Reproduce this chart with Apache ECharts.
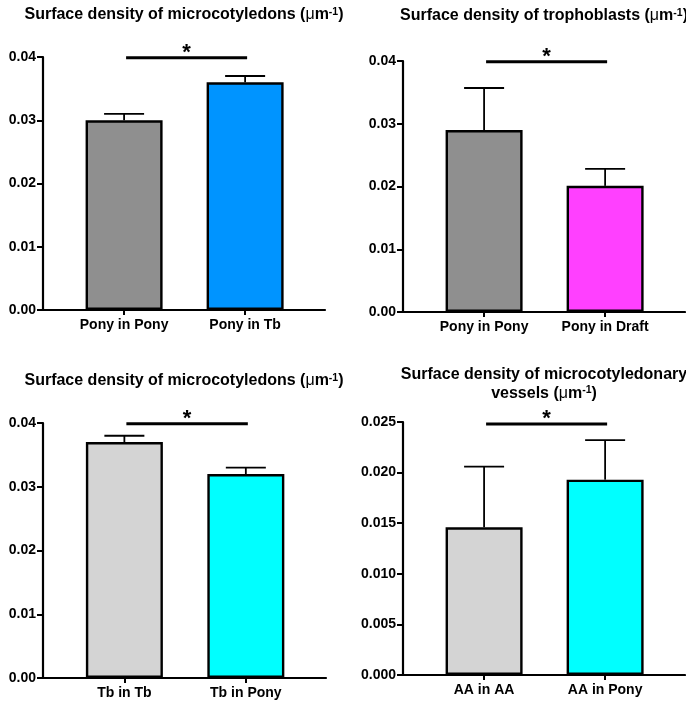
<!DOCTYPE html>
<html>
<head>
<meta charset="utf-8">
<script src="https://cdn.jsdelivr.net/npm/echarts@6/dist/echarts.min.js"></script>
<style>html,body{margin:0;padding:0;background:#fff}#c{width:686px;height:704px}</style>
</head>
<body>
<div id="c"></div>
<script>
// ---- data ----
const catsA = ['Pony in Pony', 'Pony in Tb'];
const meansA = [0.0300, 0.0360];
const errA = [0.0010, 0.0010];

const catsB = ['Pony in Pony', 'Pony in Draft'];
const meansB = [0.0290, 0.0201];
const errB = [0.0067, 0.0027];

const catsC = ['Tb in Tb', 'Tb in Pony'];
const meansC = [0.0370, 0.0320];
const errC = [0.0010, 0.0010];

const catsD = ['AA in AA', 'AA in Pony'];
const meansD = [0.0146, 0.0193];
const errD = [0.0060, 0.0039];

const yMax = [0.04, 0.04, 0.04, 0.025];
const yStep = [0.01, 0.01, 0.01, 0.005];
const yDecimals = [2, 2, 2, 3];
const sigLevel = [0.0399, 0.0399, 0.0399, 0.0248];
const sigMark = ['*', '*', '*', '*'];

const titles = [
  ['Surface density of microcotyledons ('],
  ['Surface density of trophoblasts ('],
  ['Surface density of microcotyledons ('],
  ['Surface density of microcotyledonary\nvessels (']
];

// ---- styles ----
const colors = [
  ['#8f8f8f', '#0094ff'],
  ['#8f8f8f', '#ff40ff'],
  ['#d4d4d4', '#00ffff'],
  ['#d4d4d4', '#00ffff']
];
const grids = [
  {left: 43, right: 361, top: 57, bottom: 394},
  {left: 403, right: 1, top: 61, bottom: 392},
  {left: 43, right: 360, top: 423, bottom: 26},
  {left: 403, right: 1, top: 422, bottom: 29}
];
const titlePos = [[184, 15], [544, 16], [184, 381], [544, 384]];

const panels = [
  {cats: catsA, means: meansA, err: errA},
  {cats: catsB, means: meansB, err: errB},
  {cats: catsC, means: meansC, err: errC},
  {cats: catsD, means: meansD, err: errD}
];

const FONT = '"Liberation Sans", Arial, sans-serif';

const option = {
  animation: false,
  backgroundColor: '#fff',
  grid: grids.map(g => Object.assign({containLabel: false}, g)),
  xAxis: panels.map((p, i) => ({
    type: 'value', gridIndex: i, min: -0.67, max: 1.66,
    splitLine: {show: false},
    axisLine: {show: true, onZero: false, lineStyle: {color: '#000', width: 2.2}},
    axisTick: {show: true, length: 5, lineStyle: {color: '#000', width: 2}, customValues: [0, 1]},
    axisLabel: {
      customValues: [0, 1], margin: 8,
      formatter: v => p.cats[Math.round(v)],
      color: '#000', fontWeight: 'bold', fontSize: 14, fontFamily: FONT
    }
  })),
  yAxis: panels.map((p, i) => ({
    type: 'value', gridIndex: i, min: 0, max: yMax[i], interval: yStep[i],
    splitLine: {show: false},
    axisLine: {show: true, onZero: false, lineStyle: {color: '#000', width: 2.2}},
    axisTick: {show: true, length: 6, lineStyle: {color: '#000', width: 2}},
    axisLabel: {
      margin: 7, formatter: v => v.toFixed(yDecimals[i]),
      color: '#000', fontWeight: 'bold', fontSize: 14, fontFamily: FONT
    }
  })),
  graphic: titles.map((t, i) => ({
    type: 'text', x: titlePos[i][0], y: titlePos[i][1],
    style: {
      text: '{b|' + t[0].replace('\n', '}\n{b|') + '}{mu|\u03bc}{b|m}{sup|-1}{b|)}',
      align: 'center', verticalAlign: 'middle',
      rich: {
        b: {fontFamily: FONT, fontWeight: 'bold', fontSize: 16, lineHeight: 19, color: '#000'},
        mu: {fontFamily: FONT, fontWeight: 'normal', fontSize: 16, lineHeight: 19, color: '#000'},
        sup: {fontFamily: FONT, fontWeight: 'bold', fontSize: 10.5, lineHeight: 19, verticalAlign: 'top', color: '#000', padding: [1, 0, 0, 0]}
      }
    }
  })),
  series: []
};

panels.forEach((p, i) => {
  option.series.push({
    type: 'bar', xAxisIndex: i, yAxisIndex: i, barWidth: 77,
    data: p.means.map((m, k) => ({
      value: [k, m],
      itemStyle: {color: colors[i][k], borderColor: '#000', borderWidth: 2.4}
    })),
    z: 2
  });
  option.series.push({
    type: 'custom', xAxisIndex: i, yAxisIndex: i, z: 3, clip: false,
    data: p.means.map((m, k) => [k, m, p.err[k]]),
    encode: {x: 0, y: 1},
    renderItem: (params, api) => {
      const x = api.value(0), m = api.value(1), e = api.value(2);
      const b = api.coord([x, m]);
      const t = api.coord([x, m + e]);
      const st = {stroke: '#000', lineWidth: 1.8};
      return {type: 'group', children: [
        {type: 'line', shape: {x1: b[0], y1: b[1], x2: t[0], y2: t[1]}, style: st},
        {type: 'line', shape: {x1: t[0] - 20, y1: t[1], x2: t[0] + 20, y2: t[1]}, style: st}
      ]};
    }
  });
  option.series.push({
    type: 'custom', xAxisIndex: i, yAxisIndex: i, z: 3, clip: false,
    data: [[0, 1, sigLevel[i]]],
    encode: {x: 0, y: 2},
    renderItem: (params, api) => {
      const a = api.coord([api.value(0), api.value(2)]);
      const c = api.coord([api.value(1), api.value(2)]);
      return {type: 'group', children: [
        {type: 'line', shape: {x1: a[0] + 2, y1: a[1], x2: c[0] + 2, y2: c[1]}, style: {stroke: '#000', lineWidth: 3}},
        {type: 'text', x: (a[0] + c[0]) / 2 + 2, y: a[1] - 5,
          style: {text: sigMark[i], align: 'center', verticalAlign: 'middle', font: 'bold 22px ' + FONT, fill: '#000'}}
      ]};
    }
  });
});

const chart = echarts.init(document.getElementById('c'), null, {renderer: 'canvas'});
chart.setOption(option);
</script>
</body>
</html>
